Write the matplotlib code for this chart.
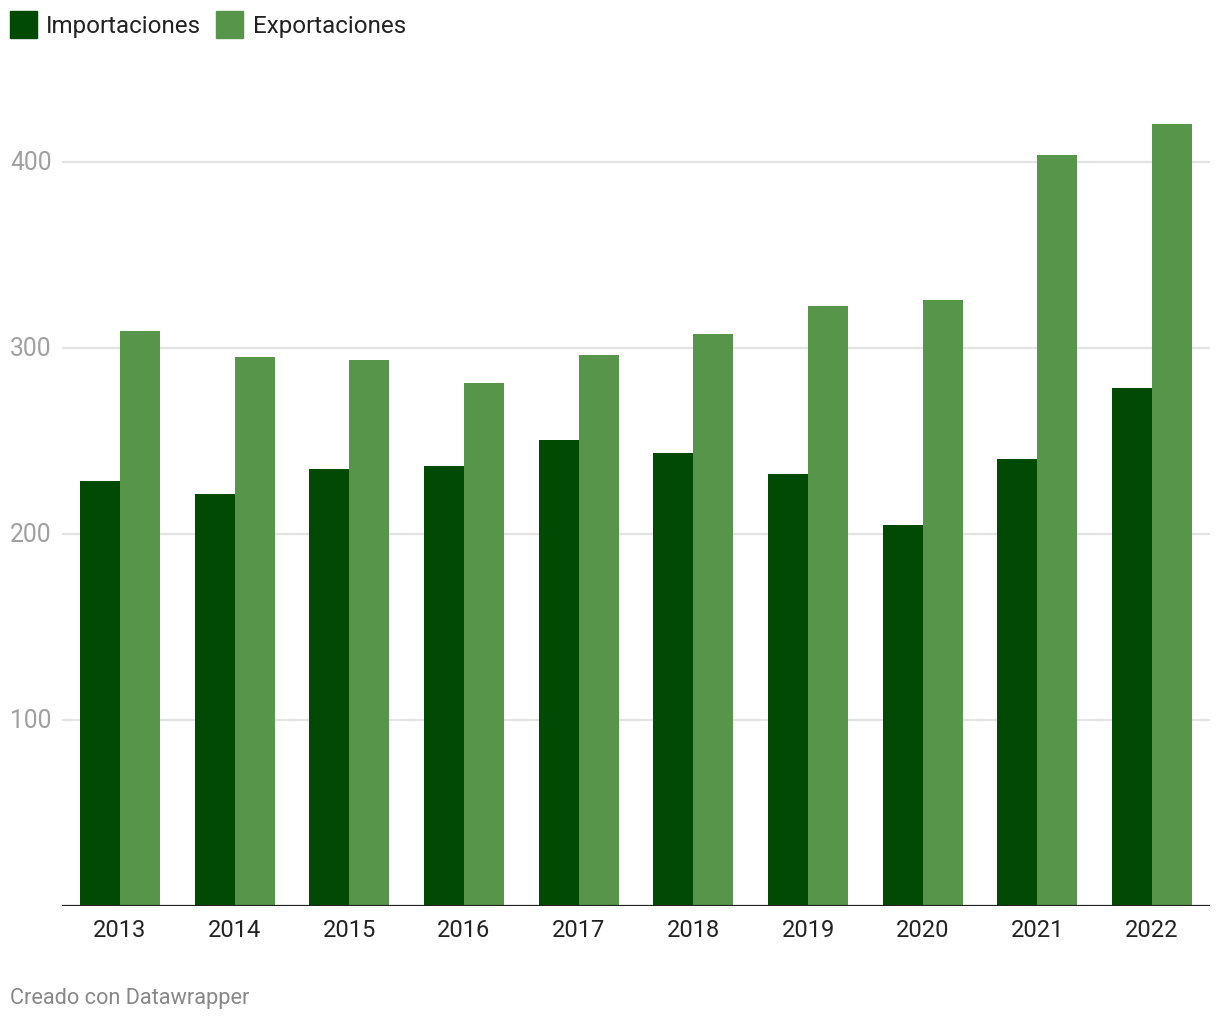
import matplotlib
matplotlib.use("Agg")
import matplotlib.pyplot as plt
from matplotlib.patches import Rectangle
import numpy as np

plt.rcParams['font.family'] = ['Roboto', 'DejaVu Sans']

years = ["2013", "2014", "2015", "2016", "2017", "2018", "2019", "2020", "2021", "2022"]
importaciones = [228.5, 221.5, 234.9, 236.6, 250.5, 243.5, 232.3, 204.8, 240.3, 278.5]
exportaciones = [309.1, 295.2, 293.5, 281.2, 296.2, 307.5, 322.6, 325.8, 403.8, 420.4]
yticks = [100, 200, 300, 400]

c_imp = "#004a03"
c_exp = "#56954a"

W, H = 1220, 1020
base = 907.0
top = base - 440 * 1.86
fig = plt.figure(figsize=(W/100, H/100), dpi=100)
ax = fig.add_axes([62/W, 1-base/H, (1210-62)/W, (base-top)/H])

x = np.arange(len(years))
bw = 0.348
ax.bar(x - bw/2, importaciones, width=bw, color=c_imp, zorder=3)
ax.bar(x + bw/2, exportaciones, width=bw, color=c_exp, zorder=3)

ax.set_xlim(-0.505, len(years) - 0.495)
ax.set_ylim(0, 440)

for t in yticks:
    ax.axhline(t, color="#e3e3e3", lw=1.6, zorder=1)
    fig.text(10/W, 1-(base - t*1.86)/H, str(t), fontsize=17.7, color="#a0a0a0",
             ha="left", va="center")
ax.axhline(0, color="#222222", lw=1.6, zorder=4)

ax.set_yticks([])
ax.set_xticks(x)
ax.set_xticklabels(years, fontsize=17, color="#222222")
ax.tick_params(axis="x", length=0, pad=9)
for s in ax.spines.values():
    s.set_visible(False)

# legend
fig.patches.append(Rectangle((10/W, 1-39/H), 27/W, 27/H, transform=fig.transFigure,
                             color=c_imp, figure=fig))
fig.text(46/W, 1-26.5/H, "Importaciones", fontsize=17.4, color="#222222", va="center", ha="left")
fig.patches.append(Rectangle((216/W, 1-39/H), 27/W, 27/H, transform=fig.transFigure,
                             color=c_exp, figure=fig))
fig.text(253/W, 1-26.5/H, "Exportaciones", fontsize=17.4, color="#222222", va="center", ha="left")

fig.text(10/W, 1-998.5/H, "Creado con Datawrapper", fontsize=15.7, color="#888888",
         va="center", ha="left")

fig.savefig("out.png", dpi=100, facecolor="white")
